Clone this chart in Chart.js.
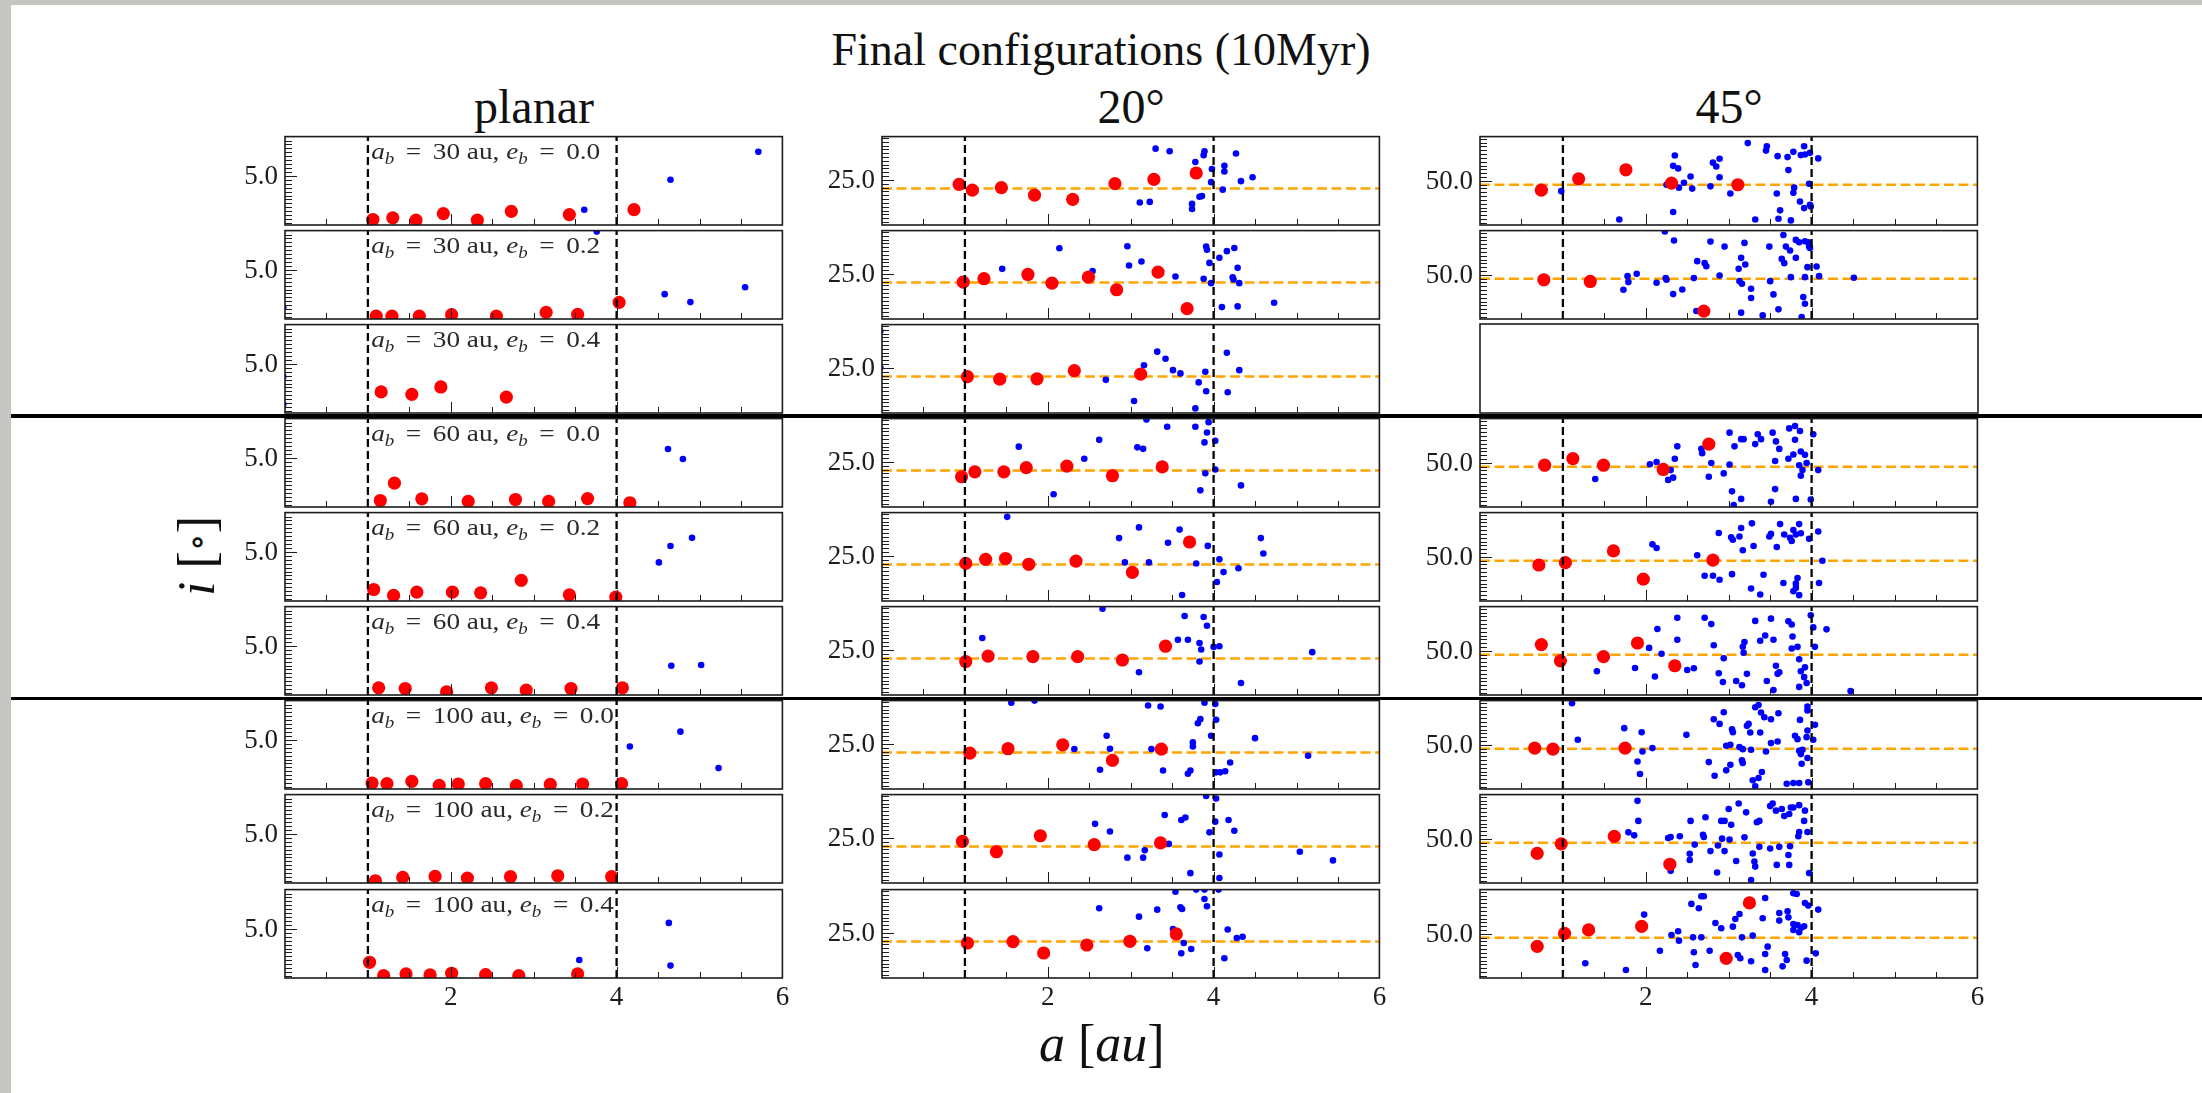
<!DOCTYPE html>
<html>
<head>
<meta charset="utf-8">
<script src="https://cdn.jsdelivr.net/npm/chart.js@4.4.0/dist/chart.umd.min.js"></script>
<style>
  body { margin: 0; width: 2202px; height: 1093px; background: #fff; position: relative; overflow: hidden;
         font-family: "Liberation Serif", "DejaVu Serif", serif; color: #111; }
  .edge { position: absolute; background: #c5c5c1; }
  .txt { position: absolute; white-space: nowrap; line-height: normal; }
  .rule { position: absolute; left: 11px; width: 2191px; height: 3.5px; background: #000; z-index: 5; }
  canvas { position: absolute; }
  i { font-style: italic; }
  .circ { font-size: 0.7em; vertical-align: 0.12em; }
</style>
</head>
<body>
<div class="edge" style="left:0;top:0;width:2202px;height:5px"></div>
<div class="edge" style="left:0;top:0;width:11px;height:1093px"></div>

<div class="txt" id="suptitle" style="font-size:46px">Final configurations (10Myr)</div>
<div class="txt" id="xlabel" style="font-size:52px"><i>a</i> [<i>au</i>]</div>
<div class="txt" id="ylabel" style="font-size:52px"><i>i</i> [<span class="circ">∘</span>]</div>

<div class="rule" style="top:414px"></div>
<div class="rule" style="top:696.5px"></div>

<script>
// ---- runs: binary separation / eccentricity / disc inclination ----
const binarySeparations = [30, 60, 100];
const binaryEccentricities = ['0.0', '0.2', '0.4'];
const inclinationTitles = ['planar', '20°', '45°'];
const referenceInclination = [null, 20, 45];

// axes
const yRanges = [[0, 9], [-1.5, 50.5], [-5, 105]];
const yTickValues = [5.0, 25.0, 50.0];
const yTickLabels = ['5.0', '25.0', '50.0'];
const yMinorSteps = [0.4, 2.25, 4.75];
const xRange = [0, 6];
const xTickValues = [2, 4, 6];
const xTickLabels = ['2', '4', '6'];
const xMinorStep = 0.5;
const zoneEdges = [1, 4];

// [a (au), i (deg)] of the surviving embryos (big) and planetesimals (small)
const planar30e00Big = [[1.06,0.56],[1.30,0.73],[1.58,0.50],[1.91,1.16],[2.32,0.50],[2.73,1.39],[3.43,1.06],[4.21,1.56]];
const planar30e00Small = [[3.61,1.56],[4.65,4.60],[5.71,7.45]];
const planar30e02Big = [[1.10,0.30],[1.29,0.30],[1.62,0.30],[2.01,0.44],[2.55,0.30],[3.15,0.68],[3.53,0.47],[4.03,1.69]];
const planar30e02Small = [[3.76,8.9],[4.58,2.53],[4.89,1.72],[5.55,3.24],[-0.02,1.2]];
const planar30e04Big = [[1.16,2.15],[1.53,1.89],[1.88,2.65],[2.67,1.62]];
const planar30e04Small = [[-0.02,5.7],[-0.02,3.7],[-0.02,0.9]];
const planar60e00Big = [[1.15,0.66],[1.32,2.43],[1.65,0.83],[2.21,0.57],[2.78,0.76],[3.18,0.57],[3.65,0.86],[4.16,0.43]];
const planar60e00Small = [[4.62,5.91],[4.80,4.88]];
const planar60e02Big = [[1.07,1.17],[1.31,0.57],[1.59,0.90],[2.02,0.90],[2.36,0.83],[2.85,2.10],[3.43,0.63],[3.99,0.40]];
const planar60e02Small = [[4.51,3.93],[4.65,5.60],[4.91,6.43]];
const planar60e04Big = [[1.13,0.73],[1.45,0.66],[1.95,0.33],[2.49,0.73],[2.91,0.50],[3.45,0.66],[4.07,0.73]];
const planar60e04Small = [[4.66,2.98],[5.02,3.05]];
const planar100e00Big = [[1.05,0.61],[1.23,0.54],[1.53,0.78],[1.86,0.37],[2.09,0.51],[2.42,0.54],[2.79,0.34],[3.20,0.47],[3.59,0.51],[4.06,0.54]];
const planar100e00Small = [[4.16,4.32],[4.77,5.84],[5.23,2.13]];
const planar100e02Big = [[1.09,0.23],[1.42,0.57],[1.81,0.67],[2.20,0.50],[2.72,0.64],[3.29,0.74],[3.94,0.64]];
const planar100e02Small = [];
const planar100e04Big = [[1.02,1.60],[1.19,0.24],[1.46,0.41],[1.75,0.31],[2.01,0.48],[2.42,0.34],[2.82,0.24],[3.53,0.41]];
const planar100e04Small = [[3.55,1.84],[4.63,5.61],[4.65,1.26]];

const i20a30e00Big = [[0.93,22.4],[1.09,19.0],[1.44,20.5],[1.84,16.1],[2.30,13.6],[2.81,22.8],[3.28,25.3],[3.79,29.1]];
const i20a30e00Small = [[3.30,43.4],[3.47,41.9],[3.78,35.6],[3.88,39.6],[3.89,41.9],[3.97,23.7],[3.98,31.4],[4.13,33.3],[4.13,30.0],[4.27,40.6],[4.33,24.3],[4.47,26.6],[4.11,19.3],[3.11,11.7],[3.23,12.1],[3.74,10.9],[3.74,7.9],[3.83,15.1],[3.86,15.5]];
const i20a30e02Big = [[0.98,20.2],[1.23,22.2],[1.76,24.7],[2.05,19.6],[2.49,23.1],[2.83,15.7],[3.33,26.1],[3.68,4.6]];
const i20a30e02Small = [[2.14,40.1],[1.45,28.0],[2.54,26.7],[2.96,41.3],[2.98,30.0],[3.13,32.3],[3.54,23.5],[3.88,22.2],[3.91,41.1],[3.92,39.2],[3.95,31.5],[3.97,19.6],[4.07,34.5],[4.16,38.4],[4.25,40.3],[4.29,28.6],[4.23,23.1],[4.24,21.8],[4.31,19.6],[4.10,5.5],[4.29,5.9],[4.73,8.1]];
const i20a30e04Big = [[1.03,19.9],[1.42,18.4],[1.87,18.6],[2.32,23.4],[3.12,21.4]];
const i20a30e04Small = [[2.70,18.0],[3.16,26.6],[3.32,34.6],[3.42,30.4],[3.51,23.7],[3.60,21.8],[3.90,22.8],[3.82,16.5],[3.91,11.3],[3.78,1.2],[4.16,33.9],[4.31,23.7],[4.17,10.7],[3.04,5.6],[-0.02,46.7],[-0.02,25.3]];
const i20a60e00Big = [[0.96,16.3],[1.12,19.2],[1.47,19.2],[1.74,21.7],[2.23,22.5],[2.78,16.9],[3.38,22.1]];
const i20a60e00Small = [[1.65,34.0],[2.44,26.9],[2.62,38.0],[2.07,6.0],[3.08,33.6],[3.15,32.7],[3.19,49.9],[3.44,45.7],[3.78,45.7],[3.92,42.3],[3.94,48.4],[3.89,36.5],[4.02,37.5],[4.02,20.6],[3.90,18.3],[3.84,8.3],[4.33,11.2]];
const i20a60e02Big = [[1.01,20.6],[1.25,23.0],[1.49,23.5],[1.77,20.1],[2.34,22.0],[3.02,15.3],[3.71,33.2]];
const i20a60e02Small = [[1.51,48.0],[2.86,35.5],[3.10,41.8],[2.93,21.2],[3.22,21.2],[3.45,32.8],[3.59,40.5],[3.62,2.0],[3.79,20.6],[3.93,30.9],[4.07,23.0],[4.12,15.5],[4.04,9.7],[4.30,17.8],[4.57,35.5],[4.60,26.4]];
const i20a60e04Big = [[1.01,18.2],[1.28,21.4],[1.82,21.1],[2.36,21.1],[2.90,19.1],[3.42,27.2]];
const i20a60e04Small = [[1.21,32.0],[2.66,49.2],[3.10,11.9],[3.57,31.0],[3.69,31.0],[3.65,45.0],[3.88,44.4],[3.92,39.2],[3.83,29.1],[3.85,25.3],[3.83,18.2],[4.00,26.8],[4.07,27.2],[4.33,5.6],[5.19,23.7]];
const i20a100e00Big = [[1.06,19.6],[1.52,22.2],[2.18,24.5],[2.78,15.3],[3.37,22.0]];
const i20a100e00Small = [[1.56,49.3],[1.84,50.5],[2.32,22.0],[2.71,29.8],[2.75,22.2],[2.63,9.8],[3.21,47.6],[3.36,47.0],[3.25,22.0],[3.39,9.4],[3.69,7.5],[3.72,9.4],[3.75,23.5],[3.75,25.9],[3.81,37.2],[3.84,39.6],[3.89,49.3],[3.97,29.8],[4.02,48.5],[4.03,39.2],[4.03,8.3],[4.08,8.3],[4.14,8.9],[4.20,14.1],[4.50,28.4],[5.14,18.1]];
const i20a100e02Big = [[0.97,23.0],[1.38,16.9],[1.91,26.3],[2.56,21.1],[3.36,22.1]];
const i20a100e02Small = [[2.57,33.3],[2.75,28.8],[2.96,13.4],[3.15,13.4],[3.17,17.8],[3.41,38.5],[3.61,35.6],[3.66,37.0],[3.46,21.5],[3.72,4.3],[3.91,49.7],[4.03,48.2],[4.02,34.6],[3.95,28.3],[4.18,35.6],[4.25,29.2],[4.07,15.3],[4.07,1.4],[5.04,16.9],[5.44,11.8]];
const i20a100e04Big = [[1.03,19.1],[1.58,19.9],[1.95,13.2],[2.47,17.9],[2.99,20.1],[3.55,24.4]];
const i20a100e04Small = [[2.62,39.5],[3.10,34.6],[3.32,38.7],[3.51,27.3],[3.54,49.3],[3.60,40.1],[3.62,39.1],[3.79,50.5],[3.89,50.5],[3.89,45.0],[3.92,40.7],[3.64,19.1],[3.61,13.0],[3.73,15.6],[3.20,16.0],[4.06,50.5],[4.17,27.0],[4.28,22.0],[4.35,22.8],[4.13,10.1]];

const i45a30e00Big = [[0.74,38.3],[1.19,52.4],[1.76,63.7],[2.31,47.2],[3.11,45.1]];
const i45a30e00Small = [[0.98,37.1],[1.68,1.9],[2.35,81.5],[2.33,68.6],[2.39,65.4],[2.40,41.5],[2.46,47.6],[2.54,55.3],[2.56,40.3],[2.33,11.2],[2.25,45.1],[2.78,43.1],[2.81,72.6],[2.85,67.8],[2.89,77.5],[2.89,54.4],[3.02,34.2],[3.23,96.9],[3.32,1.9],[3.45,87.6],[3.46,92.9],[3.58,34.2],[3.59,80.7],[3.62,13.2],[3.60,2.7],[3.71,79.5],[3.72,63.3],[3.78,86.0],[3.79,41.5],[3.78,35.0],[3.75,0.7],[3.86,24.1],[3.87,82.0],[3.91,92.9],[3.91,16.0],[3.92,82.8],[3.98,84.8],[3.98,20.1],[3.99,18.1],[3.97,46.4],[4.08,77.9]];
const i45a30e02Big = [[0.77,43.8],[1.33,41.7],[2.70,4.9]];
const i45a30e02Small = [[1.78,48.3],[1.79,40.9],[1.89,51.2],[1.73,31.4],[2.13,40.1],[2.24,45.9],[2.25,43.8],[2.23,104.0],[2.34,92.6],[2.33,26.0],[2.44,31.8],[2.58,45.9],[2.62,67.0],[2.71,64.5],[2.73,60.7],[2.78,91.3],[2.89,49.2],[2.95,85.1],[3.12,57.4],[3.15,71.1],[3.19,89.7],[3.20,62.8],[3.13,42.1],[3.16,38.8],[3.27,32.6],[3.27,21.1],[3.15,2.9],[3.41,-0.5],[3.49,85.1],[3.50,42.1],[3.54,25.6],[3.60,7.0],[3.66,99.6],[3.69,85.1],[3.74,80.2],[3.64,69.8],[3.67,64.5],[3.75,47.1],[3.81,93.4],[3.81,71.1],[3.85,90.5],[3.92,91.8],[3.96,90.5],[3.97,85.1],[3.98,83.5],[3.95,59.5],[3.92,47.1],[3.90,22.3],[3.92,14.0],[3.88,-2.5],[4.06,60.3],[4.09,48.3],[4.51,46.3],[2.61,4.9]];
const i45a60e00Big = [[0.78,47.0],[1.12,55.1],[1.49,47.0],[2.21,41.7],[2.76,73.3]];
const i45a60e00Small = [[1.39,29.9],[2.05,48.2],[2.13,51.0],[2.30,40.9],[2.27,28.7],[2.33,31.5],[2.35,55.1],[2.38,70.5],[2.67,67.3],[2.68,62.0],[2.76,32.7],[2.79,49.8],[2.94,36.8],[3.01,47.8],[3.01,87.5],[3.07,70.5],[3.15,79.4],[3.18,79.4],[3.04,14.5],[3.15,5.1],[3.06,-2.6],[3.32,73.3],[3.35,85.5],[3.39,79.4],[3.51,1.5],[3.53,87.5],[3.56,17.3],[3.57,76.6],[3.61,67.3],[3.56,52.2],[3.72,55.1],[3.73,92.8],[3.78,60.3],[3.80,95.7],[3.80,78.6],[3.81,5.1],[3.86,89.6],[3.87,64.0],[3.85,47.0],[3.89,40.9],[3.87,34.0],[3.92,59.9],[3.94,49.8],[3.99,4.3],[4.02,85.5],[4.08,40.9]];
const i45a60e02Big = [[0.71,39.8],[1.03,42.7],[1.61,57.3],[1.97,22.3],[2.81,45.9]];
const i45a60e02Small = [[2.08,65.5],[2.13,61.0],[2.62,52.0],[2.71,26.4],[2.81,26.4],[2.89,21.5],[3.04,28.4],[2.88,79.7],[3.03,74.4],[3.05,71.2],[3.13,75.3],[3.15,85.9],[3.17,58.1],[3.28,91.6],[3.30,63.4],[3.27,10.5],[3.38,3.1],[3.42,27.6],[3.49,75.3],[3.51,78.5],[3.58,62.2],[3.62,90.7],[3.67,77.7],[3.66,17.4],[3.74,73.6],[3.76,69.6],[3.78,83.4],[3.81,77.7],[3.83,23.5],[3.81,16.6],[3.81,11.3],[3.78,7.2],[3.85,90.7],[3.85,2.3],[3.87,79.3],[3.97,72.4],[4.08,81.4],[4.09,17.4],[4.13,45.1]];
const i45a60e04Big = [[0.74,57.7],[0.97,37.5],[1.49,42.7],[1.90,59.7],[2.35,31.4]];
const i45a60e04Small = [[1.41,24.5],[1.87,28.6],[2.04,53.6],[2.11,18.1],[2.14,77.1],[2.19,46.4],[2.38,91.2],[2.38,63.7],[2.50,26.1],[2.58,28.2],[2.71,91.2],[2.79,83.2],[2.82,56.9],[2.94,40.7],[2.88,22.1],[2.93,11.2],[3.09,12.5],[3.16,7.1],[3.17,54.9],[3.19,60.9],[3.18,47.6],[3.22,21.3],[3.32,87.2],[3.38,62.5],[3.44,69.0],[3.46,12.4],[3.51,90.0],[3.54,63.7],[3.57,31.4],[3.61,23.3],[3.59,21.3],[3.54,1.1],[3.72,86.8],[3.76,82.8],[3.77,67.8],[3.76,52.8],[3.83,54.9],[3.85,39.5],[3.87,24.5],[3.91,17.2],[3.92,29.4],[3.85,5.1],[3.94,10.0],[3.99,94.1],[4.02,79.1],[4.04,54.9],[4.18,76.7],[4.47,-0.1]];
const i45a100e00Big = [[0.66,45.9],[0.88,44.6],[1.75,45.9]];
const i45a100e00Small = [[1.11,101.7],[1.18,56.2],[1.74,70.7],[1.95,65.7],[1.96,41.7],[1.90,29.3],[1.93,13.6],[2.08,45.9],[2.49,62.4],[2.76,28.5],[2.82,81.8],[2.89,76.0],[2.94,90.5],[2.83,11.5],[2.97,18.2],[3.02,25.2],[2.97,48.8],[3.02,50.0],[3.04,69.4],[3.05,65.7],[3.13,47.1],[3.16,30.6],[3.17,27.3],[3.17,44.6],[3.22,73.6],[3.24,76.0],[3.26,65.3],[3.27,43.8],[3.29,5.8],[3.32,-1.7],[3.36,8.6],[3.32,96.7],[3.36,99.6],[3.39,90.1],[3.43,84.3],[3.40,16.1],[3.45,41.7],[3.51,81.8],[3.51,52.1],[3.59,54.1],[3.60,89.3],[3.38,65.3],[3.70,1.6],[3.78,2.4],[3.80,61.2],[3.83,57.0],[3.85,42.6],[3.85,2.4],[3.86,81.0],[3.87,38.4],[3.88,26.4],[3.89,43.8],[3.95,97.5],[3.95,92.6],[3.95,67.8],[3.94,59.5],[3.95,33.5],[3.96,3.3],[4.02,56.2],[4.04,74.8]];
const i45a100e02Big = [[0.69,31.8],[0.98,43.7],[1.62,53.1],[2.29,18.3]];
const i45a100e02Small = [[1.79,58.0],[1.86,54.3],[1.90,97.2],[1.91,72.3],[2.27,51.0],[2.30,52.2],[2.41,53.1],[2.30,10.1],[2.53,31.4],[2.53,23.6],[2.54,72.3],[2.59,42.8],[2.69,55.1],[2.70,52.2],[2.72,76.8],[2.78,34.7],[2.86,8.1],[2.87,41.6],[2.91,72.3],[2.95,72.3],[2.95,34.7],[2.92,50.2],[3.00,87.0],[3.01,49.0],[3.03,67.4],[3.09,22.4],[3.12,94.0],[3.19,51.8],[3.21,82.9],[3.27,-1.3],[3.29,31.8],[3.31,21.6],[3.32,15.4],[3.34,70.6],[3.37,72.3],[3.37,40.0],[3.50,90.7],[3.53,94.0],[3.50,37.9],[3.57,85.0],[3.58,17.5],[3.61,40.0],[3.64,87.0],[3.67,78.4],[3.73,80.9],[3.75,89.0],[3.78,89.0],[3.72,29.8],[3.73,17.5],[3.74,40.8],[3.85,91.9],[3.84,53.1],[3.85,58.4],[3.91,72.3],[3.92,85.0],[3.95,58.4],[3.97,7.3]];
const i45a100e04Big = [[0.69,34.4],[1.02,50.6],[1.31,54.8],[1.95,59.3],[3.25,88.4],[2.97,19.5]];
const i45a100e04Small = [[1.27,13.3],[1.76,5.0],[1.98,73.9],[2.17,29.0],[2.31,48.5],[2.39,53.1],[2.40,41.5],[2.55,87.2],[2.64,81.8],[2.67,96.7],[2.70,96.7],[2.57,45.6],[2.58,27.0],[2.60,11.2],[2.67,45.6],[2.77,29.0],[2.84,63.5],[2.91,56.9],[3.05,58.9],[3.08,68.5],[3.13,74.7],[3.11,23.6],[3.16,45.6],[3.14,19.5],[3.27,15.8],[3.29,47.7],[3.41,69.3],[3.44,94.6],[3.47,34.0],[3.44,24.9],[3.44,5.0],[3.61,75.9],[3.61,66.4],[3.65,9.5],[3.68,24.9],[3.70,17.4],[3.71,78.0],[3.72,70.5],[3.78,100.4],[3.82,99.6],[3.78,62.2],[3.78,54.8],[3.83,61.0],[3.85,51.9],[3.87,57.3],[3.91,59.3],[3.92,88.4],[3.94,16.6],[3.96,85.1],[4.05,25.7],[4.08,80.1]];

// rows: (a_b, e_b) runs, columns: planar / 20 / 45 degrees; null = run not shown
const bigBodies = [
  [planar30e00Big, i20a30e00Big, i45a30e00Big],
  [planar30e02Big, i20a30e02Big, i45a30e02Big],
  [planar30e04Big, i20a30e04Big, null],
  [planar60e00Big, i20a60e00Big, i45a60e00Big],
  [planar60e02Big, i20a60e02Big, i45a60e02Big],
  [planar60e04Big, i20a60e04Big, i45a60e04Big],
  [planar100e00Big, i20a100e00Big, i45a100e00Big],
  [planar100e02Big, i20a100e02Big, i45a100e02Big],
  [planar100e04Big, i20a100e04Big, i45a100e04Big]
];
const smallBodies = [
  [planar30e00Small, i20a30e00Small, i45a30e00Small],
  [planar30e02Small, i20a30e02Small, i45a30e02Small],
  [planar30e04Small, i20a30e04Small, null],
  [planar60e00Small, i20a60e00Small, i45a60e00Small],
  [planar60e02Small, i20a60e02Small, i45a60e02Small],
  [planar60e04Small, i20a60e04Small, i45a60e04Small],
  [planar100e00Small, i20a100e00Small, i45a100e00Small],
  [planar100e02Small, i20a100e02Small, i45a100e02Small],
  [planar100e04Small, i20a100e04Small, i45a100e04Small]
];

// ---- layout ----
const colLeft = [285, 882, 1480];
const rowTop = [136, 230, 324, 418, 512, 606, 700, 794, 889];
const panelW = 498, panelH = 89;
const PAD = { left: 70, right: 6, top: 6, bottom: 42 };
const INK = '#1c1c1c';
const FONT = '"Liberation Serif", "DejaVu Serif", serif';

function placeText(id, cx, baseline, size) {
  const el = document.getElementById(id);
  el.style.left = (cx - el.offsetWidth / 2) + 'px';
  el.style.top = (baseline - 0.891 * size) + 'px';
}
placeText('suptitle', 1101, 64, 46);
placeText('xlabel', 1102, 1060, 52);
const yl = document.getElementById('ylabel');
yl.style.left = '196px'; yl.style.top = '556px';
yl.style.transform = 'translate(-50%,-50%) rotate(-90deg)';

inclinationTitles.forEach((t, c) => {
  const d = document.createElement('div');
  d.className = 'txt'; d.style.fontSize = '48px'; d.textContent = t;
  document.body.appendChild(d);
  d.style.left = (colLeft[c] + panelW / 2 - d.offsetWidth / 2) + 'px';
  d.style.top = (122 - 0.891 * 48) + 'px';
});

// run label, e.g. "a_b = 30 au, e_b = 0.0"
const labelWidth30 = 229;
function runLabelParts(sep, ecc) {
  return [['a', 'italic', 23, 0], ['b', 'italic', 16, 5], [' ', '', 23, 0, 4], ['=', '', 23, 0], [' ', '', 23, 0, 4],
          [sep + ' au, ', '', 23, 0], ['e', 'italic', 23, 0], ['b', 'italic', 16, 5], [' ', '', 23, 0, 4],
          ['=', '', 23, 0], [' ', '', 23, 0, 4], [ecc, '', 23, 0]];
}
function partsWidth(ctx, parts) {
  let w = 0;
  parts.forEach(p => { ctx.font = `${p[1]} ${p[2]}px ${FONT}`; w += ctx.measureText(p[0]).width + (p[4] || 0); });
  return w;
}
let labelStretch = null;
function drawRunLabel(ctx, x, y, sep, ecc) {
  const parts = runLabelParts(sep, ecc);
  if (labelStretch === null) labelStretch = labelWidth30 / partsWidth(ctx, runLabelParts(30, '0.0'));
  ctx.save();
  ctx.translate(x, y);
  ctx.scale(labelStretch, 1);
  ctx.fillStyle = '#2a2a2a';
  ctx.textAlign = 'left'; ctx.textBaseline = 'alphabetic';
  let px = 0;
  parts.forEach(p => {
    ctx.font = `${p[1]} ${p[2]}px ${FONT}`;
    ctx.fillText(p[0], px, p[3]);
    px += ctx.measureText(p[0]).width + (p[4] || 0);
  });
  ctx.restore();
}

// frame, inward ticks and tick labels of one panel
const panelAxes = {
  id: 'panelAxes',
  afterDatasetsDraw(chart, args, opts) {
    const { ctx, chartArea: a, scales: { x, y } } = chart;
    ctx.save();
    ctx.strokeStyle = INK;
    if (!opts.empty) {
      const col = opts.col;
      ctx.lineWidth = 1;
      ctx.beginPath();
      for (let v = xRange[0] + xMinorStep; v < xRange[1] - 1e-9; v += xMinorStep) {
        const px = Math.round(x.getPixelForValue(v)) + 0.5;
        const major = xTickValues.some(t => Math.abs(t - v) < 1e-6);
        ctx.moveTo(px, a.bottom); ctx.lineTo(px, a.bottom - (major ? 11 : 6));
      }
      const yt = yTickValues[col], step = yMinorSteps[col];
      for (let k = -30; k <= 30; k++) {
        const v = yt + k * step;
        if (v <= y.min || v >= y.max) continue;
        const py = Math.round(y.getPixelForValue(v)) + 0.5;
        ctx.moveTo(a.left, py); ctx.lineTo(a.left + (k === 0 ? 12 : 7), py);
      }
      ctx.stroke();

      ctx.fillStyle = INK;
      ctx.font = `27px ${FONT}`;
      ctx.textAlign = 'right'; ctx.textBaseline = 'middle';
      ctx.fillText(yTickLabels[col], a.left - 7, y.getPixelForValue(yt) + 1);
      if (opts.bottomRow) {
        ctx.textAlign = 'center'; ctx.textBaseline = 'alphabetic';
        xTickValues.forEach((v, k) => ctx.fillText(xTickLabels[k], x.getPixelForValue(v), a.bottom + 27));
      }
      if (col === 0) drawRunLabel(ctx, x.getPixelForValue(1.04), a.top + 22, opts.sep, opts.ecc);
    }
    ctx.lineWidth = 1.6;
    ctx.strokeRect(a.left, a.top, a.right - a.left, a.bottom - a.top);
    ctx.restore();
  }
};

const noClip = { left: 0, top: 0, right: 0, bottom: 0 };
const toPoints = arr => arr.map(p => ({ x: p[0], y: p[1] }));

for (let r = 0; r < 9; r++) {
  for (let c = 0; c < 3; c++) {
    const big = bigBodies[r][c], small = smallBodies[r][c];
    const empty = big === null;
    const [ymin, ymax] = yRanges[c];
    const datasets = [];
    if (!empty) {
      zoneEdges.forEach(e => datasets.push({
        data: [{ x: e, y: ymin }, { x: e, y: ymax }], showLine: true, pointRadius: 0,
        borderColor: '#000', borderWidth: 2.3, borderDash: [8, 4], order: 0, clip: noClip
      }));
      datasets.push({ data: toPoints(big), backgroundColor: '#ff0000', borderWidth: 0, pointRadius: 6.6, order: 1, clip: noClip });
      datasets.push({ data: toPoints(small), backgroundColor: '#0000ff', borderWidth: 0, pointRadius: 3.3, order: 2, clip: noClip });
      if (referenceInclination[c] !== null) {
        const ri = referenceInclination[c];
        datasets.push({
          data: [{ x: xRange[0], y: ri }, { x: xRange[1], y: ri }], showLine: true, pointRadius: 0,
          borderColor: '#ffa500', borderWidth: 2.6, borderDash: [10, 4.5], order: 3, clip: noClip
        });
      }
    }
    const cv = document.createElement('canvas');
    cv.width = panelW + PAD.left + PAD.right;
    cv.height = panelH + PAD.top + PAD.bottom;
    cv.style.left = (colLeft[c] - PAD.left) + 'px';
    cv.style.top = (rowTop[r] - PAD.top) + 'px';
    document.body.appendChild(cv);
    new Chart(cv, {
      type: 'scatter',
      data: { datasets },
      options: {
        responsive: false, animation: false, devicePixelRatio: 1, events: [],
        layout: { padding: PAD },
        scales: {
          x: { type: 'linear', min: xRange[0], max: xRange[1], display: false },
          y: { type: 'linear', min: ymin, max: ymax, display: false }
        },
        plugins: {
          legend: { display: false }, tooltip: { enabled: false },
          panelAxes: {
            empty, col: c, bottomRow: r === 8,
            sep: binarySeparations[Math.floor(r / 3)], ecc: binaryEccentricities[r % 3]
          }
        }
      },
      plugins: [panelAxes]
    });
  }
}
</script>
</body>
</html>
